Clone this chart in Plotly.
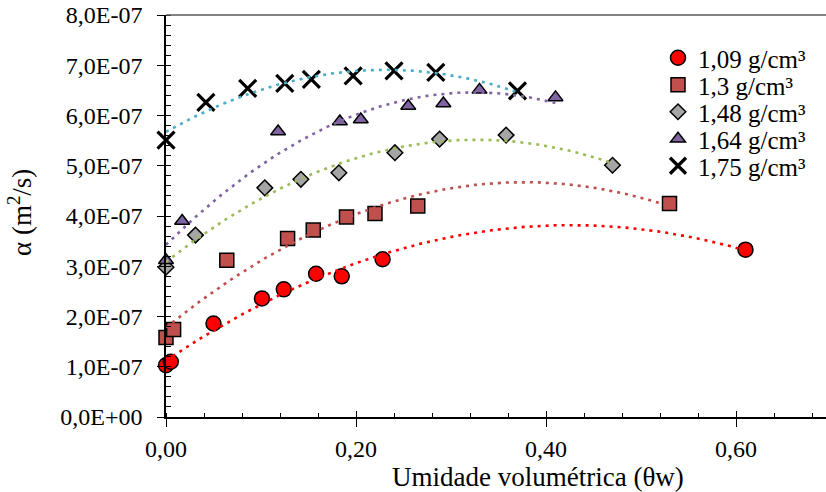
import numpy as np
import plotly.graph_objects as go

# ---- data ----
theta_109 = [0.000, 0.005, 0.050, 0.101, 0.124, 0.158, 0.185, 0.228, 0.610]
alpha_109 = [1.03e-7, 1.10e-7, 1.86e-7, 2.36e-7, 2.54e-7, 2.85e-7, 2.80e-7, 3.14e-7, 3.33e-7]

theta_130 = [0.000, 0.008, 0.064, 0.128, 0.155, 0.190, 0.220, 0.265, 0.530]
alpha_130 = [1.58e-7, 1.74e-7, 3.12e-7, 3.55e-7, 3.72e-7, 3.98e-7, 4.05e-7, 4.20e-7, 4.25e-7]

theta_148 = [0.000, 0.031, 0.104, 0.142, 0.182, 0.241, 0.288, 0.358, 0.470]
alpha_148 = [2.98e-7, 3.62e-7, 4.56e-7, 4.73e-7, 4.86e-7, 5.26e-7, 5.53e-7, 5.61e-7, 5.01e-7]

theta_164 = [0.000, 0.017, 0.118, 0.183, 0.205, 0.255, 0.292, 0.330, 0.410]
alpha_164 = [3.12e-7, 3.90e-7, 5.68e-7, 5.88e-7, 5.92e-7, 6.19e-7, 6.24e-7, 6.51e-7, 6.36e-7]

theta_175 = [0.000, 0.042, 0.086, 0.125, 0.153, 0.197, 0.240, 0.284, 0.370]
alpha_175 = [5.51e-7, 6.26e-7, 6.54e-7, 6.64e-7, 6.72e-7, 6.79e-7, 6.89e-7, 6.86e-7, 6.49e-7]

series_names = ["1,09 g/cm³", "1,3 g/cm³", "1,48 g/cm³", "1,64 g/cm³", "1,75 g/cm³"]

x_tick_vals = [0.0, 0.2, 0.4, 0.6]
x_tick_labels = ["0,00", "0,20", "0,40", "0,60"]
y_tick_vals = [0, 1e-7, 2e-7, 3e-7, 4e-7, 5e-7, 6e-7, 7e-7, 8e-7]
y_tick_labels = ["0,0E+00", "1,0E-07", "2,0E-07", "3,0E-07", "4,0E-07",
                 "5,0E-07", "6,0E-07", "7,0E-07", "8,0E-07"]

# ---- styling ----
FONT = "Liberation Serif"
W, H = 826, 492
ML, MR, MT, MB = 166, 0, 15, 75
PW, PH = W - ML - MR, H - MT - MB

styles = [
    dict(symbol="circle", size=15, color="#FF0000", line=dict(color="black", width=1.5)),
    dict(symbol="square", size=14, color="#C0504D", line=dict(color="black", width=1.5)),
    dict(symbol="diamond", size=12, color="#A5A5A5", line=dict(color="black", width=1.5)),
    dict(symbol="triangle-up", size=13, color="#8064A2", line=dict(color="black", width=1.5)),
    dict(symbol="x-thin", size=17, color="black", line=dict(color="black", width=3.2)),
]
trend_colors = ["#FF0000", "#C0504D", "#9BBB59", "#8064A2", "#4BACC6"]
data = [(theta_109, alpha_109), (theta_130, alpha_130), (theta_148, alpha_148),
        (theta_164, alpha_164), (theta_175, alpha_175)]

legend_py = [58, 85, 112, 139, 166]  # legend entry centres (px)
legend_keys = ["legend", "legend2", "legend3", "legend4", "legend5"]

fig = go.Figure()

for i, (xs, ys) in enumerate(data):
    fig.add_trace(go.Scatter(
        x=xs, y=ys, mode="markers", name=series_names[i],
        marker=styles[i], cliponaxis=False, legend=legend_keys[i],
    ))

# polynomial (order 2) trendlines, as in the spreadsheet chart
for i, (xs, ys) in enumerate(data):
    c = np.polyfit(np.array(xs), np.array(ys), 2)
    xx = np.linspace(0, max(xs), 120)
    fig.add_trace(go.Scatter(
        x=xx, y=np.polyval(c, xx), mode="lines", showlegend=False,
        line=dict(color=trend_colors[i], width=2.6, dash="3px,5px"),
        hoverinfo="skip", cliponaxis=False,
    ))

# dummy trace for overlay axes (inside part of crossing major ticks)
fig.add_trace(go.Scatter(x=[], y=[], xaxis="x2", yaxis="y2", showlegend=False, hoverinfo="skip"))

xrange = [0, PW / 950.0]
yrange = [0, 8e-7]

layout_legends = {}
for k, py in zip(legend_keys, legend_py):
    layout_legends[k] = dict(
        x=(658 - ML) / PW, xanchor="left",
        y=(H - MB - py) / PH, yanchor="middle",
        bgcolor="rgba(0,0,0,0)", borderwidth=0,
        font=dict(family=FONT, size=25, color="black"),
        itemwidth=30,
    )

fig.update_layout(
    width=W, height=H,
    margin=dict(l=ML, r=MR, t=MT, b=MB, pad=0),
    paper_bgcolor="white", plot_bgcolor="white",
    font=dict(family=FONT, color="black"),
    showlegend=True,
    xaxis=dict(
        range=xrange, showgrid=False, zeroline=False,
        showline=True, linecolor="black", linewidth=1.5,
        ticks="outside", ticklen=8, tickwidth=1.3, tickcolor="black",
        tickmode="array", tickvals=x_tick_vals, ticktext=x_tick_labels,
        tickfont=dict(family=FONT, size=24, color="black"),
        ticklabelstandoff=1,
        minor=dict(ticks="inside", ticklen=4, tickwidth=1.3, tickcolor="black",
                   tick0=0, dtick=0.04, showgrid=False),
    ),
    yaxis=dict(
        range=yrange, showgrid=False, zeroline=False,
        showline=True, linecolor="black", linewidth=1.5,
        ticks="outside", ticklen=7, tickwidth=1.3, tickcolor="black",
        tickmode="array", tickvals=y_tick_vals, ticktext=y_tick_labels,
        tickfont=dict(family=FONT, size=24, color="black"),
        ticklabelstandoff=10,
        minor=dict(ticks="inside", ticklen=5, tickwidth=1.3, tickcolor="black",
                   tick0=0, dtick=2e-8, showgrid=False),
    ),
    xaxis2=dict(
        range=xrange, overlaying="x", anchor="y", side="bottom",
        showgrid=False, zeroline=False, showline=False, showticklabels=False,
        ticks="inside", ticklen=6, tickwidth=1.3, tickcolor="black",
        tickmode="array", tickvals=x_tick_vals,
    ),
    yaxis2=dict(
        range=yrange, overlaying="y", anchor="x", side="left",
        showgrid=False, zeroline=False, showline=False, showticklabels=False,
        ticks="inside", ticklen=5, tickwidth=1.3, tickcolor="black",
        tickmode="array", tickvals=y_tick_vals,
    ),
    shapes=[dict(type="line", xref="paper", yref="paper", x0=0, x1=1, y0=1, y1=1,
                 line=dict(color="#595959", width=1.5))],
    annotations=[
        dict(text="Umidade volumétrica (θw)", xref="paper", yref="paper",
             x=(538 - ML) / PW, y=(H - MB - 477) / PH, xanchor="center", yanchor="middle",
             showarrow=False, font=dict(family=FONT, size=27, color="black")),
        dict(text="α (m<sup>2</sup>/s)", xref="paper", yref="paper",
             x=(20 - ML) / PW, y=(H - MB - 213) / PH, xanchor="center", yanchor="middle",
             textangle=-90, showarrow=False, font=dict(family=FONT, size=27, color="black")),
    ],
    **layout_legends,
)

fig.write_html(
    "out.html",
    config={"displayModeBar": False},
    post_script="document.body.style.margin='0px';document.body.style.overflow='hidden';",
)
